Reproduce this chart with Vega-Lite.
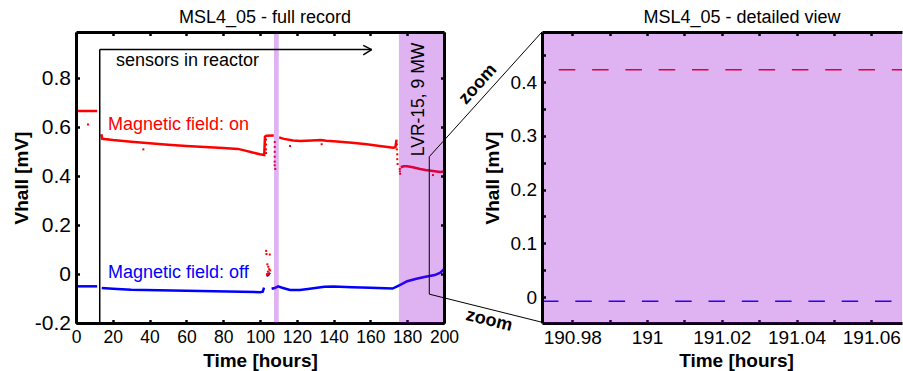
{
  "$schema": "https://vega.github.io/schema/vega-lite/v6.json",
  "background": "white",
  "padding": {"left": 12, "top": 8, "right": 0, "bottom": 0},
  "spacing": 98,
  "bounds": "flush",
  "datasets": {
    "lines": [
      {"s": "on", "seg": "r1", "t": 0, "v": 0.667}, {"s": "on", "seg": "r1", "t": 11.5, "v": 0.667},
      {"s": "on", "seg": "r2", "t": 13.8, "v": 0.572}, {"s": "on", "seg": "r2", "t": 14.3, "v": 0.553},
      {"s": "on", "seg": "r2", "t": 20, "v": 0.548}, {"s": "on", "seg": "r2", "t": 30, "v": 0.541},
      {"s": "on", "seg": "r2", "t": 40, "v": 0.535}, {"s": "on", "seg": "r2", "t": 50, "v": 0.529},
      {"s": "on", "seg": "r2", "t": 60, "v": 0.524}, {"s": "on", "seg": "r2", "t": 70, "v": 0.52},
      {"s": "on", "seg": "r2", "t": 80, "v": 0.516}, {"s": "on", "seg": "r2", "t": 88, "v": 0.512},
      {"s": "on", "seg": "r2", "t": 92, "v": 0.505}, {"s": "on", "seg": "r2", "t": 96, "v": 0.497},
      {"s": "on", "seg": "r2", "t": 100, "v": 0.49}, {"s": "on", "seg": "r2", "t": 102.3, "v": 0.487},
      {"s": "on", "seg": "r2", "t": 102.7, "v": 0.562}, {"s": "on", "seg": "r2", "t": 103.5, "v": 0.566},
      {"s": "on", "seg": "r2", "t": 107.5, "v": 0.567},
      {"s": "on", "seg": "r3", "t": 110.4, "v": 0.559}, {"s": "on", "seg": "r3", "t": 113, "v": 0.553},
      {"s": "on", "seg": "r3", "t": 118, "v": 0.546}, {"s": "on", "seg": "r3", "t": 122, "v": 0.544},
      {"s": "on", "seg": "r3", "t": 128, "v": 0.546}, {"s": "on", "seg": "r3", "t": 133, "v": 0.548},
      {"s": "on", "seg": "r3", "t": 136, "v": 0.545}, {"s": "on", "seg": "r3", "t": 140, "v": 0.543},
      {"s": "on", "seg": "r3", "t": 150, "v": 0.537}, {"s": "on", "seg": "r3", "t": 158, "v": 0.531},
      {"s": "on", "seg": "r3", "t": 165, "v": 0.524}, {"s": "on", "seg": "r3", "t": 172.5, "v": 0.517},
      {"s": "on", "seg": "r3", "t": 173.6, "v": 0.519}, {"s": "on", "seg": "r3", "t": 174.2, "v": 0.55},
      {"s": "on", "seg": "r4", "t": 176.5, "v": 0.437}, {"s": "on", "seg": "r4", "t": 178, "v": 0.441},
      {"s": "on", "seg": "r4", "t": 180, "v": 0.441}, {"s": "on", "seg": "r4", "t": 183, "v": 0.437},
      {"s": "on", "seg": "r4", "t": 187, "v": 0.43}, {"s": "on", "seg": "r4", "t": 190, "v": 0.426},
      {"s": "on", "seg": "r4", "t": 193, "v": 0.423}, {"s": "on", "seg": "r4", "t": 196, "v": 0.42},
      {"s": "on", "seg": "r4", "t": 198, "v": 0.418}, {"s": "on", "seg": "r4", "t": 200, "v": 0.42},
      {"s": "off", "seg": "b1", "t": 0, "v": -0.05}, {"s": "off", "seg": "b1", "t": 11.5, "v": -0.05},
      {"s": "off", "seg": "b2", "t": 14, "v": -0.057}, {"s": "off", "seg": "b2", "t": 20, "v": -0.06},
      {"s": "off", "seg": "b2", "t": 30, "v": -0.064}, {"s": "off", "seg": "b2", "t": 45, "v": -0.066},
      {"s": "off", "seg": "b2", "t": 60, "v": -0.068}, {"s": "off", "seg": "b2", "t": 75, "v": -0.07},
      {"s": "off", "seg": "b2", "t": 90, "v": -0.072}, {"s": "off", "seg": "b2", "t": 100, "v": -0.074},
      {"s": "off", "seg": "b2", "t": 101.5, "v": -0.072}, {"s": "off", "seg": "b2", "t": 102.2, "v": -0.055},
      {"s": "off", "seg": "b3", "t": 103.5, "v": -0.007}, {"s": "off", "seg": "b3", "t": 104.5, "v": -0.004},
      {"s": "off", "seg": "b3", "t": 105.4, "v": 0.006},
      {"s": "off", "seg": "b4", "t": 106.3, "v": -0.06}, {"s": "off", "seg": "b4", "t": 108, "v": -0.057},
      {"s": "off", "seg": "b4", "t": 109.8, "v": -0.05}, {"s": "off", "seg": "b4", "t": 112, "v": -0.056},
      {"s": "off", "seg": "b4", "t": 116.3, "v": -0.065}, {"s": "off", "seg": "b4", "t": 121.7, "v": -0.065},
      {"s": "off", "seg": "b4", "t": 126, "v": -0.061}, {"s": "off", "seg": "b4", "t": 130, "v": -0.057},
      {"s": "off", "seg": "b4", "t": 135, "v": -0.052}, {"s": "off", "seg": "b4", "t": 140, "v": -0.051},
      {"s": "off", "seg": "b4", "t": 150, "v": -0.054}, {"s": "off", "seg": "b4", "t": 160, "v": -0.056},
      {"s": "off", "seg": "b4", "t": 172, "v": -0.059}, {"s": "off", "seg": "b4", "t": 174, "v": -0.052},
      {"s": "off", "seg": "b4", "t": 177, "v": -0.041}, {"s": "off", "seg": "b4", "t": 180, "v": -0.029},
      {"s": "off", "seg": "b4", "t": 185, "v": -0.019}, {"s": "off", "seg": "b4", "t": 190, "v": -0.011},
      {"s": "off", "seg": "b4", "t": 195, "v": -0.004}, {"s": "off", "seg": "b4", "t": 198, "v": 0.006},
      {"s": "off", "seg": "b4", "t": 200, "v": 0.02}
    ],
    "dots": [
      {"s": "on", "t": 108, "v": 0.54}, {"s": "on", "t": 108, "v": 0.52}, {"s": "on", "t": 108, "v": 0.5},
      {"s": "on", "t": 108, "v": 0.48}, {"s": "on", "t": 108, "v": 0.46}, {"s": "on", "t": 108, "v": 0.445},
      {"s": "on", "t": 108.3, "v": 0.43}, {"s": "on", "t": 103.3, "v": 0.55}, {"s": "on", "t": 103.3, "v": 0.53},
      {"s": "on", "t": 103.3, "v": 0.51}, {"s": "on", "t": 103.3, "v": 0.495}, {"s": "on", "t": 174.4, "v": 0.53},
      {"s": "on", "t": 174.4, "v": 0.51}, {"s": "on", "t": 174.6, "v": 0.49}, {"s": "on", "t": 174.6, "v": 0.47},
      {"s": "on", "t": 174.8, "v": 0.45}, {"s": "on", "t": 176, "v": 0.43}, {"s": "on", "t": 176, "v": 0.42},
      {"s": "on", "t": 176.2, "v": 0.41}, {"s": "on", "t": 103.3, "v": 0.095}, {"s": "on", "t": 103.5, "v": 0.082},
      {"s": "on", "t": 105.3, "v": 0.08}, {"s": "on", "t": 104, "v": 0.04}, {"s": "on", "t": 104.5, "v": 0.03},
      {"s": "on", "t": 105, "v": 0.02}, {"s": "on", "t": 104.3, "v": 0.01}, {"s": "on", "t": 105.5, "v": 0.015},
      {"s": "on", "t": 103.8, "v": 0.0}, {"s": "on", "t": 104.8, "v": 0.0}, {"s": "on", "t": 6.5, "v": 0.612},
      {"s": "on", "t": 36.6, "v": 0.51}, {"s": "on", "t": 116.3, "v": 0.524}, {"s": "on", "t": 133.5, "v": 0.531},
      {"s": "on", "t": 194, "v": 0.405}, {"s": "on", "t": 0.3, "v": 0.58}
    ],
    "bands": [
      {"t1": 107.6, "t2": 110.2},
      {"t1": 175.5, "t2": 200}
    ],
    "arrow": [
      {"t1": 12.9, "v1": -0.2, "t2": 12.9, "v2": 0.918},
      {"t1": 12.9, "v1": 0.918, "t2": 160.7, "v2": 0.918},
      {"t1": 156.1, "v1": 0.935, "t2": 160.7, "v2": 0.918},
      {"t1": 156.1, "v1": 0.896, "t2": 160.7, "v2": 0.918}
    ],
    "connector": [
      {"t1": 192, "v1": -0.082, "t2": 192, "v2": 0.48},
      {"t1": 192, "v1": 0.48, "t2": 253.3, "v2": 0.9906},
      {"t1": 192, "v1": -0.082, "t2": 253.3, "v2": -0.197}
    ],
    "zoomlines": [
      {"s": "on", "t": 190.9719, "v": 0.4227}, {"s": "on", "t": 191.0682, "v": 0.4227},
      {"s": "off", "t": 190.9719, "v": -0.0074}, {"s": "off", "t": 191.0682, "v": -0.0074}
    ],
    "zoomband": [
      {"t1": 190.9719, "t2": 191.0682}
    ]
  },
  "hconcat": [
    {
      "width": 368,
      "height": 291,
      "title": {"text": "MSL4_05 - full record", "dx": 5},
      "resolve": {"axis": {"x": "independent", "y": "independent"}},
      "layer": [
        {
          "data": {"name": "lines"},
          "mark": {"type": "line", "strokeWidth": 2.5},
          "encoding": {
            "x": {"field": "t", "type": "quantitative", "scale": {"domain": [0, 200], "nice": false, "zero": false},
              "axis": {"orient": "bottom", "title": "Time [hours]", "values": [0, 20, 40, 60, 80, 100, 120, 140, 160, 180, 200], "labelExpr": "toString(datum.value)", "labelFlush": false, "labelOverlap": false, "zindex": 0, "titlePadding": 5}},
            "y": {"field": "v", "type": "quantitative", "scale": {"domain": [-0.2, 0.99], "nice": false, "zero": false},
              "axis": {"orient": "left", "title": "Vhall [mV]", "values": [-0.2, 0, 0.2, 0.4, 0.6, 0.8], "labelExpr": "toString(datum.value)", "labelFontSize": 21, "labelOverlap": false, "zindex": 1, "titlePadding": 3}},
            "color": {"field": "s", "type": "nominal", "scale": {"domain": ["on", "off"], "range": ["#ff0000", "#0000ff"]}, "legend": null},
            "detail": {"field": "seg"}
          }
        },
        {
          "data": {"name": "dots"},
          "mark": {"type": "square", "size": 4, "opacity": 1, "filled": true},
          "encoding": {
            "x": {"field": "t", "type": "quantitative", "scale": {"domain": [0, 200], "nice": false, "zero": false}, "axis": null},
            "y": {"field": "v", "type": "quantitative", "scale": {"domain": [-0.2, 0.99], "nice": false, "zero": false}, "axis": null},
            "color": {"field": "s", "type": "nominal", "scale": {"domain": ["on", "off"], "range": ["#ff0000", "#0000ff"]}, "legend": null}
          }
        },
        {
          "data": {"name": "bands"},
          "mark": {"type": "rect", "color": "#9400D3", "opacity": 0.3},
          "encoding": {
            "x": {"field": "t1", "type": "quantitative", "scale": {"domain": [0, 200], "nice": false, "zero": false}, "axis": null},
            "x2": {"field": "t2"}
          }
        },
        {
          "data": {"name": "arrow"},
          "mark": {"type": "rule", "color": "black", "strokeWidth": 1.5},
          "encoding": {
            "x": {"field": "t1", "type": "quantitative", "scale": {"domain": [0, 200], "nice": false, "zero": false},
              "axis": {"orient": "top", "title": null, "labels": false, "values": [0, 20, 40, 60, 80, 100, 120, 140, 160, 180, 200], "zindex": 1}},
            "x2": {"field": "t2"},
            "y": {"field": "v1", "type": "quantitative", "scale": {"domain": [-0.2, 0.99], "nice": false, "zero": false},
              "axis": {"orient": "right", "title": null, "labels": false, "values": [-0.2, 0, 0.2, 0.4, 0.6, 0.8], "zindex": 1}},
            "y2": {"field": "v2"}
          }
        },
        {
          "data": {"name": "connector"},
          "mark": {"type": "rule", "color": "black", "strokeWidth": 1},
          "encoding": {
            "x": {"field": "t1", "type": "quantitative", "scale": {"domain": [0, 200], "nice": false, "zero": false}, "axis": null},
            "x2": {"field": "t2"},
            "y": {"field": "v1", "type": "quantitative", "scale": {"domain": [-0.2, 0.99], "nice": false, "zero": false}, "axis": null},
            "y2": {"field": "v2"}
          }
        },
        {
          "data": {"values": [{"t": 21.7, "v": 0.871, "label": "sensors in reactor"}]},
          "mark": {"type": "text", "align": "left", "baseline": "middle", "fontSize": 18, "color": "black", "font": "Liberation Sans"},
          "encoding": {
            "x": {"field": "t", "type": "quantitative", "scale": {"domain": [0, 200], "nice": false, "zero": false}, "axis": null},
            "y": {"field": "v", "type": "quantitative", "scale": {"domain": [-0.2, 0.99], "nice": false, "zero": false}, "axis": null},
            "text": {"field": "label"}
          }
        },
        {
          "data": {"values": [{"t": 17.4, "v": 0.608, "label": "Magnetic field: on", "s": "on"}, {"t": 17.4, "v": 0.004, "label": "Magnetic field: off", "s": "off"}]},
          "mark": {"type": "text", "align": "left", "baseline": "middle", "fontSize": 18, "font": "Liberation Sans"},
          "encoding": {
            "x": {"field": "t", "type": "quantitative", "scale": {"domain": [0, 200], "nice": false, "zero": false}, "axis": null},
            "y": {"field": "v", "type": "quantitative", "scale": {"domain": [-0.2, 0.99], "nice": false, "zero": false}, "axis": null},
            "text": {"field": "label"},
            "color": {"field": "s", "type": "nominal", "scale": {"domain": ["on", "off"], "range": ["#ff0000", "#0000ff"]}, "legend": null}
          }
        },
        {
          "data": {"values": [{"t": 186.4, "v": 0.714, "label": "LVR-15, 9 MW"}]},
          "mark": {"type": "text", "align": "center", "baseline": "middle", "angle": 270, "fontSize": 17.5, "color": "black", "font": "Liberation Sans"},
          "encoding": {
            "x": {"field": "t", "type": "quantitative", "scale": {"domain": [0, 200], "nice": false, "zero": false}, "axis": null},
            "y": {"field": "v", "type": "quantitative", "scale": {"domain": [-0.2, 0.99], "nice": false, "zero": false}, "axis": null},
            "text": {"field": "label"}
          }
        },
        {
          "data": {"values": [{"t": 218.5, "v": 0.776, "label": "zoom"}]},
          "mark": {"type": "text", "align": "center", "baseline": "middle", "angle": 312, "fontSize": 18, "fontWeight": "bold", "color": "black", "font": "Liberation Sans"},
          "encoding": {
            "x": {"field": "t", "type": "quantitative", "scale": {"domain": [0, 200], "nice": false, "zero": false}, "axis": null},
            "y": {"field": "v", "type": "quantitative", "scale": {"domain": [-0.2, 0.99], "nice": false, "zero": false}, "axis": null},
            "text": {"field": "label"}
          }
        },
        {
          "data": {"values": [{"t": 224.5, "v": -0.19, "label": "zoom"}]},
          "mark": {"type": "text", "align": "center", "baseline": "middle", "angle": 14, "fontSize": 18, "fontWeight": "bold", "color": "black", "font": "Liberation Sans"},
          "encoding": {
            "x": {"field": "t", "type": "quantitative", "scale": {"domain": [0, 200], "nice": false, "zero": false}, "axis": null},
            "y": {"field": "v", "type": "quantitative", "scale": {"domain": [-0.2, 0.99], "nice": false, "zero": false}, "axis": null},
            "text": {"field": "label"}
          }
        }
      ]
    },
    {
      "width": 360,
      "height": 291,
      "title": {"text": "MSL4_05 - detailed view", "dx": 20},
      "resolve": {"axis": {"x": "independent", "y": "independent"}},
      "layer": [
        {
          "data": {"name": "zoomlines"},
          "transform": [{"filter": "datum.s == 'off'"}],
          "mark": {"type": "line", "strokeWidth": 1.5, "color": "#0000ff", "strokeDash": [16.5, 16.8]},
          "encoding": {
            "x": {"field": "t", "type": "quantitative", "scale": {"domain": [190.9719, 191.0682], "nice": false, "zero": false},
              "axis": {"orient": "bottom", "title": "Time [hours]", "titleX": 194, "values": [190.98, 190.99, 191, 191.01, 191.02, 191.03, 191.04, 191.05, 191.06], "labelExpr": "round(datum.value*100) % 2 == 0 ? toString(round(datum.value*100)/100) : ''", "labelFontSize": 19, "labelFlush": false, "labelOverlap": false, "zindex": 0, "titlePadding": 4}},
            "y": {"field": "v", "type": "quantitative", "scale": {"domain": [-0.048, 0.493], "nice": false, "zero": false},
              "axis": {"orient": "left", "title": "Vhall [mV]", "values": [0, 0.05, 0.1, 0.15, 0.2, 0.25, 0.3, 0.35, 0.4, 0.45], "labelExpr": "round(datum.value*20) % 2 == 0 ? toString(round(datum.value*10)/10) : ''", "labelFontSize": 19, "labelOverlap": false, "zindex": 1, "titlePadding": 8}}
          }
        },
        {
          "data": {"name": "zoomlines"},
          "transform": [{"filter": "datum.s == 'on'"}],
          "mark": {"type": "line", "strokeWidth": 1.5, "color": "#ff0000", "strokeDash": [16.5, 16.8], "strokeDashOffset": 16.5},
          "encoding": {
            "x": {"field": "t", "type": "quantitative", "scale": {"domain": [190.9719, 191.0682], "nice": false, "zero": false}, "axis": null},
            "y": {"field": "v", "type": "quantitative", "scale": {"domain": [-0.048, 0.493], "nice": false, "zero": false}, "axis": null}
          }
        },
        {
          "data": {"name": "zoomband"},
          "mark": {"type": "rect", "color": "#9400D3", "opacity": 0.3},
          "encoding": {
            "x": {"field": "t1", "type": "quantitative", "scale": {"domain": [190.9719, 191.0682], "nice": false, "zero": false},
              "axis": {"orient": "top", "title": null, "labels": false, "values": [190.98, 190.99, 191, 191.01, 191.02, 191.03, 191.04, 191.05, 191.06], "zindex": 1}},
            "x2": {"field": "t2"}
          }
        }
      ]
    }
  ],
  "config": {
    "view": {"stroke": null},
    "axis": {
      "grid": false,
      "labelFont": "Liberation Sans",
      "titleFont": "Liberation Sans",
      "labelColor": "black",
      "titleColor": "black",
      "labelFontSize": 17.5,
      "titleFontSize": 19,
      "titleFontWeight": "bold",
      "domainColor": "black",
      "domainWidth": 3,
      "tickColor": "black",
      "tickWidth": 2.5,
      "tickSize": -3.5,
      "labelPadding": 9
    },
    "title": {"font": "Liberation Sans", "fontSize": 18, "fontWeight": "normal", "color": "black", "offset": 4}
  }
}
